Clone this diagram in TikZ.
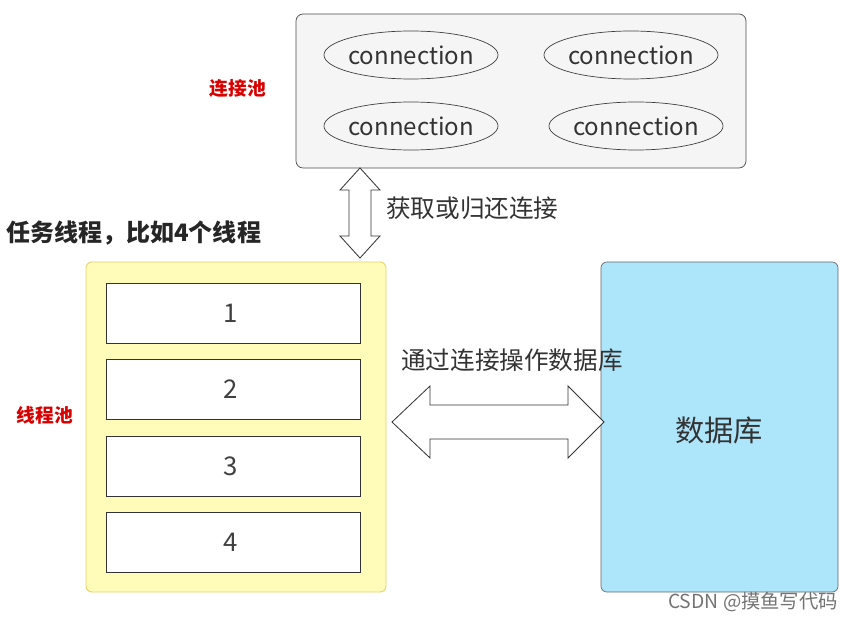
\documentclass[tikz,border=0pt]{standalone}
\usepackage{fontspec}
\setmainfont{Noto Sans CJK SC}
\begin{document}
\begin{tikzpicture}[x=0.03cm,y=-0.03cm,
  conn/.style={draw=black!75,fill=black!4,line width=0.6pt},
  thr/.style={draw=black!80,fill=white,line width=0.6pt},
  red/.style={text=red!85!black,font=\bfseries\fontsize{16}{18}\selectfont},
  arr/.style={draw=black!80,fill=white,line width=0.7pt,line join=miter}]
\useasboundingbox (0,0) rectangle (854,621);
\draw[draw=black!70,fill=black!4,rounded corners=6pt,line width=0.6pt] (296,14) rectangle (746,168);
\foreach \x/\y in {411/55,631/55,411/126,636/126}
  \draw[conn] (\x,\y) ellipse [x radius=87,y radius=24];
\foreach \x/\y in {411/55,631/55,411/126,636/126}
  \node[text=black!80,font=\fontsize{20.5}{22}\selectfont] at (\x,\y) {connection};
\node[red] (lp) at (238,88) {连接池};
% vertical double arrow
\draw[arr] (360,168) -- (380,190) -- (371,190) -- (371,236) -- (380,236) -- (360,258) -- (340,236) -- (349,236) -- (349,190) -- (340,190) -- cycle;
\node[text=black!80,font=\fontsize{21}{23}\selectfont,anchor=west,inner sep=0pt] (get) at (386,208) {获取或归还连接};
\node[font=\bfseries\fontsize{20.5}{23}\selectfont,anchor=west,text=black!85,inner sep=0pt] (task) at (6,233) {任务线程，比如4个线程};
\draw[draw=yellow!50!brown!70,fill=yellow!28,rounded corners=5pt,line width=0.8pt] (86,262) rectangle (386,592);
\foreach \i/\y in {1/283,2/359,3/436,4/512}{
  \draw[thr] (106,\y) rectangle (360,\y+60);
  \node[text=black!75,font=\fontsize{22}{24}\selectfont] (t\i) at (231,\y+30) {\i};}
\node[red] (tp) at (45,415) {线程池};
\draw[draw=black!60,fill=cyan!32!white,rounded corners=5pt,line width=0.6pt] (601,262) rectangle (838,592);
% horizontal double arrow
\draw[arr] (392,422) -- (430,386) -- (430,405) -- (568,405) -- (568,386) -- (604,422) -- (568,458) -- (568,439) -- (430,439) -- (430,458) -- cycle;
\node[text=black!80,font=\fontsize{21}{23}\selectfont,anchor=west,inner sep=0pt] (op) at (401,360) {通过连接操作数据库};
\node[text=black!80,font=\fontsize{25}{27}\selectfont] (db) at (719,430) {数据库};
\node[text=black!55,font=\fontsize{16.5}{18}\selectfont] (wm) at (753,602) {CSDN @摸鱼写代码};
\end{tikzpicture}
\end{document}
